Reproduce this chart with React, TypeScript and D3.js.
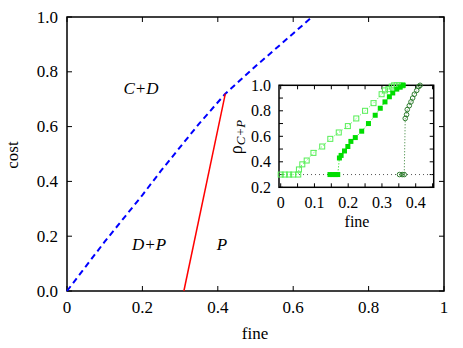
import React from "react";
import * as d3 from "d3";

// main phase diagram boundaries
const blueFine = [0, 0.05, 0.1, 0.15, 0.2, 0.25, 0.3, 0.35, 0.42, 0.5, 0.6, 0.65];
const blueCost = [0, 0.09, 0.18, 0.265, 0.35, 0.44, 0.525, 0.61, 0.72, 0.82, 0.94, 1.0];
const redFine = [0.31, 0.42];
const redCost = [0, 0.72];

const mainXTicks = [0, 0.2, 0.4, 0.6, 0.8, 1];
const mainXLabels = ["0", "0.2", "0.4", "0.6", "0.8", "1"];
const mainYTicks = [0, 0.2, 0.4, 0.6, 0.8, 1];

// inset: rho_{C+P} vs fine
const openX = [0, 0.012, 0.025, 0.037, 0.052, 0.054, 0.064, 0.077, 0.097, 0.123, 0.147, 0.172, 0.199, 0.224, 0.25, 0.275, 0.299, 0.309, 0.319, 0.329, 0.336, 0.344, 0.352, 0.36];
const openY = [0.3, 0.3, 0.3, 0.3, 0.3, 0.34, 0.38, 0.41, 0.47, 0.52, 0.58, 0.63, 0.68, 0.74, 0.8, 0.86, 0.93, 0.96, 0.97, 0.99, 1, 1, 1, 1];
const filledX = [0.146, 0.154, 0.162, 0.169, 0.174, 0.179, 0.189, 0.199, 0.208, 0.221, 0.24, 0.26, 0.28, 0.295, 0.309, 0.322, 0.332, 0.344, 0.354, 0.363];
const filledY = [0.3, 0.3, 0.3, 0.3, 0.43, 0.45, 0.485, 0.52, 0.56, 0.59, 0.64, 0.7, 0.765, 0.82, 0.87, 0.91, 0.94, 0.97, 0.985, 1];
const circX = [0.352, 0.36, 0.366, 0.369, 0.373, 0.375, 0.381, 0.386, 0.391, 0.396, 0.403, 0.409, 0.413];
const circY = [0.3, 0.3, 0.3, 0.74, 0.77, 0.81, 0.84, 0.87, 0.9, 0.93, 0.96, 0.99, 1];

const insetXTicks = [0, 0.1, 0.2, 0.3, 0.4];
const insetYTicks = [0.2, 0.4, 0.6, 0.8, 1.0];
const baseline = 0.3;

const W = 463;
const H = 348;

export default function App() {
  const x = d3.scaleLinear().domain([0, 1]).range([67, 444]);
  const y = d3.scaleLinear().domain([0, 1]).range([291, 17]);

  const ix = d3.scaleLinear().domain([0, 0.4]).range([280.7, 415.7]);
  const iy = d3.scaleLinear().domain([0.2, 1]).range([187.3, 85.3]);
  const ixMin = 279, ixMax = 433.7;

  const pathOf = (xs: number[], ys: number[], sx: any, sy: any) =>
    d3.line<number>().x((d) => sx(d)).y((_, i) => sy(ys[i]))(xs) || "";

  const minorX = d3.range(0, 1.0001, 0.2);
  const insetMinorX = d3.range(0, 0.451, 0.05);
  const insetMinorY = d3.range(0.2, 1.0001, 0.1);

  return (
    <svg width={W} height={H} style={{ position: "absolute", left: 0, top: 0, background: "#fff", fontFamily: "Liberation Serif" }}>
      {/* main frame */}
      <rect x={x(0)} y={y(1)} width={x(1) - x(0)} height={y(0) - y(1)} fill="none" stroke="#000" strokeWidth={1.5} />
      {minorX.map((t) => (
        <g key={"mx" + t}>
          <line x1={x(t)} x2={x(t)} y1={y(0)} y2={y(0) - 5} stroke="#000" />
          <line x1={x(t)} x2={x(t)} y1={y(1)} y2={y(1) + 5} stroke="#000" />
        </g>
      ))}
      {mainYTicks.map((t) => (
        <g key={"my" + t}>
          <line x1={x(0)} x2={x(0) + 5} y1={y(t)} y2={y(t)} stroke="#000" />
          <line x1={x(1)} x2={x(1) - 5} y1={y(t)} y2={y(t)} stroke="#000" />
          <text x={58} y={y(t) + 5.5} fontSize={17} textAnchor="end">{t.toFixed(1)}</text>
        </g>
      ))}
      {mainXTicks.map((t, i) => (
        <text key={"mxl" + t} x={x(t)} y={313} fontSize={17} textAnchor="middle">{mainXLabels[i]}</text>
      ))}
      <text x={255} y={339} fontSize={17} textAnchor="middle">fine</text>
      <text transform="translate(18,155) rotate(-90)" fontSize={17} textAnchor="middle">cost</text>

      {/* boundaries */}
      <path d={pathOf(blueFine, blueCost, x, y)} fill="none" stroke="#0000ff" strokeWidth={2} strokeDasharray="6,4" />
      <path d={pathOf(redFine, redCost, x, y)} fill="none" stroke="#ff0000" strokeWidth={1.5} />

      <text x={141} y={94} fontSize={17} fontStyle="italic" textAnchor="middle">C+D</text>
      <text x={149} y={250} fontSize={17} fontStyle="italic" textAnchor="middle">D+P</text>
      <text x={222} y={250} fontSize={17} fontStyle="italic" textAnchor="middle">P</text>

      {/* inset */}
      <rect x={ixMin} y={iy(1)} width={ixMax - ixMin} height={iy(0.2) - iy(1)} fill="#fff" stroke="#000" strokeWidth={1.5} />
      {insetMinorX.map((t) => (
        <g key={"ix" + t}>
          <line x1={ix(t)} x2={ix(t)} y1={iy(0.2)} y2={iy(0.2) - 4} stroke="#000" />
          <line x1={ix(t)} x2={ix(t)} y1={iy(1)} y2={iy(1) + 4} stroke="#000" />
        </g>
      ))}
      {insetMinorY.map((t) => (
        <g key={"iy" + t}>
          <line x1={ixMin} x2={ixMin + 4} y1={iy(t)} y2={iy(t)} stroke="#000" />
          <line x1={ixMax} x2={ixMax - 4} y1={iy(t)} y2={iy(t)} stroke="#000" />
        </g>
      ))}
      {insetYTicks.map((t) => (
        <text key={"iyl" + t} x={271} y={iy(t) + 5.5} fontSize={16} textAnchor="end">{t.toFixed(1)}</text>
      ))}
      {insetXTicks.map((t) => (
        <text key={"ixl" + t} x={ix(t)} y={208} fontSize={16} textAnchor="middle">{t === 0 ? "0" : t.toFixed(1)}</text>
      ))}
      <text x={357} y={227} fontSize={16} textAnchor="middle">fine</text>
      <text transform="translate(242,137) rotate(-90)" fontSize={18} textAnchor="middle">
        ρ<tspan fontSize={13} fontStyle="italic" dy={3}>C+P</tspan>
      </text>

      <line x1={ixMin} x2={ixMax} y1={iy(baseline)} y2={iy(baseline)} stroke="#555" strokeWidth={1} strokeDasharray="1,3" />

      <path d={pathOf(openX, openY, ix, iy)} fill="none" stroke="#55ee55" strokeWidth={1} strokeDasharray="1,2" />
      <path d={pathOf(filledX, filledY, ix, iy)} fill="none" stroke="#00dd00" strokeWidth={1} strokeDasharray="1,2" />
      <path d={pathOf(circX, circY, ix, iy)} fill="none" stroke="#2e7d2e" strokeWidth={1} strokeDasharray="1,2" />

      {openX.map((d, i) => (
        <rect key={"o" + i} x={ix(d) - 2.5} y={iy(openY[i]) - 2.5} width={5} height={5} fill="none" stroke="#55ee55" strokeWidth={1} />
      ))}
      {filledX.map((d, i) => (
        <rect key={"f" + i} x={ix(d) - 2.5} y={iy(filledY[i]) - 2.5} width={5} height={5} fill="#00dd00" />
      ))}
      {circX.map((d, i) => (
        <circle key={"c" + i} cx={ix(d)} cy={iy(circY[i])} r={2.3} fill="none" stroke="#2e7d2e" strokeWidth={1} />
      ))}
    </svg>
  );
}
